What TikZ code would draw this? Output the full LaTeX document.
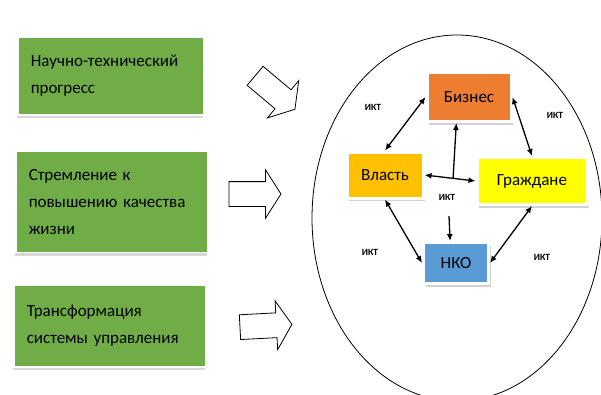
\documentclass[tikz,border=0pt]{standalone}
\usepackage{fontspec}
\setmainfont{Carlito}
\usetikzlibrary{arrows.meta,shadows,shapes.arrows,calc}
\definecolor{factorgreen}{HTML}{70AD47}
\definecolor{bizorange}{HTML}{ED7D31}
\definecolor{vlastgold}{HTML}{FFC000}
\definecolor{grazhyellow}{HTML}{FFFF00}
\definecolor{nkoblue}{HTML}{5B9BD5}

\tikzset{
  factor/.style={fill=factorgreen,draw=white,line width=1.5pt,
    drop shadow={shadow xshift=-1pt,shadow yshift=-3pt,fill=black!30},
    text width=#1,inner xsep=13pt,align=left,anchor=west,
    font=\fontsize{17}{27}\selectfont},
  actor/.style={draw=white,line width=3pt,
    drop shadow={shadow xshift=2pt,shadow yshift=-3pt,fill=black!35},
    font=\fontsize{17}{20}\selectfont},
  push/.style={single arrow,draw=black,fill=white,line width=.8pt,
    minimum height=52pt,inner xsep=0pt,inner ysep=12pt,
    single arrow head extend=12pt,single arrow tip angle=115},
  ikt/.style={font=\fontsize{9.5}{11}\selectfont\bfseries,inner sep=1pt},
  link/.style={line width=1.3pt,>={Latex[length=7pt,width=6pt]}}
}

\begin{document}
\begin{tikzpicture}[x=1pt,y=-1pt]
    \useasboundingbox (0,0) rectangle (601,394);

    % factors
    \node[factor=160pt,minimum height=78pt] (f1) at (17,76) {Научно-технический\\прогресс};
    \node[factor=166pt,minimum height=101pt] (f2) at (15,202) {Стремление к\\повышению качества\\жизни};
    \node[factor=166pt,minimum height=82pt] (f3) at (13,326) {Трансформация\\системы управления};

    % hollow arrows
    \node[push,rotate=-40] (p1) at (272,90) {};
    \node[push] (p2) at (251,194) {};
    \node[push,rotate=3] (p3) at (262,326) {};

    \draw[line width=.8pt] (457,218) ellipse [x radius=145,y radius=183];

    % actors
    \node[actor,fill=bizorange,minimum width=84pt,minimum height=49pt] (biz) at (469,97) {Бизнес};
    \node[actor,fill=vlastgold,minimum width=76pt,minimum height=46pt] (vlast) at (385,175) {Власть};
    \node[actor,fill=grazhyellow,minimum width=110pt,minimum height=47pt] (grazh) at (532,181) {Граждане};
    \node[actor,fill=nkoblue,minimum width=65pt,minimum height=41pt] (nko) at (456,263) {НКО};

    \node[ikt] (ikt1) at (373,107) {ИКТ};
    \node[ikt] (ikt2) at (555,115) {ИКТ};
    \node[ikt] (ikt3) at (447,197) {ИКТ};
    \node[ikt] (ikt4) at (370,252) {ИКТ};
    \node[ikt] (ikt5) at (542,257) {ИКТ};

    \draw[link,<->] (biz.west) -- (vlast.north);
    \draw[link,<->] (biz.east) -- (grazh.north);
    \draw[link,<->] (vlast.south) -- (nko.west);
    \draw[link,<->] (grazh.south) -- (nko.east);

    \coordinate (junc) at ($(vlast.east)!0.56!(grazh.west)$);
    \coordinate (nkoin) at (449,216);
    \draw[link,<->] (vlast.east) -- (grazh.west);
    \draw[link,->] (junc) -- (biz.-116);
    \draw[link,->] (nkoin) -- (nko.105);
\end{tikzpicture}
\end{document}
